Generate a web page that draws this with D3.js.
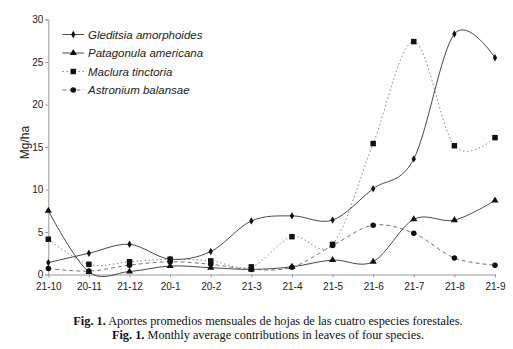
<!DOCTYPE html>
<html><head><meta charset="utf-8">
<script src="https://cdn.jsdelivr.net/npm/d3@7"></script>
<style>body{margin:0;background:#fff}svg{display:block}</style>
</head><body>
<script>
const months = ["21-10","20-11","21-12","20-1","20-2","21-3","21-4","21-5","21-6","21-7","21-8","21-9"];
const gleditsia  = [1.4, 2.5, 3.55, 1.8, 2.7, 6.3, 6.9, 6.4, 10.1, 13.6, 28.3, 25.5];
const patagonula = [7.5, 0.3, 0.35, 1.0, 0.8, 0.6, 0.9, 1.7, 1.5, 6.5, 6.4, 8.7];
const maclura    = [4.15, 1.2, 1.5, 1.8, 1.6, 0.9, 4.45, 3.55, 15.4, 27.4, 15.15, 16.1];
const astronium  = [0.7, 0.4, 1.1, 1.5, 1.2, 0.6, 0.85, 3.4, 5.8, 4.85, 1.95, 1.1];
const yTicks = [0,5,10,15,20,25,30];
const seriesNames = ["Gleditsia amorphoides","Patagonula americana","Maclura tinctoria","Astronium balansae"];

const W=513,H=349;
const svg=d3.select("body").append("svg").attr("width",W).attr("height",H);
const x=d3.scalePoint().domain(months).range([48.3,495]);
const y=d3.scaleLinear().domain([0,30]).range([274.5,19.5]);

const axisCol="#9a9a9a", txt="#222";
// y axis
const ya=svg.append("g").attr("transform","translate(48.3,0)")
  .call(d3.axisLeft(y).tickValues(yTicks).tickSize(3).tickPadding(2));
ya.select(".domain").attr("stroke",axisCol);
ya.selectAll(".tick line").attr("stroke",axisCol);
ya.selectAll("text").attr("fill",txt).style("font-family","Liberation Sans, Arial, sans-serif").style("font-size","10px");
// x axis
const xa=svg.append("g").attr("transform","translate(0,274.5)")
  .call(d3.axisBottom(x).tickSize(3).tickPadding(5).tickSizeOuter(0));
xa.select(".domain").attr("stroke",axisCol);
xa.selectAll(".tick line").attr("stroke",axisCol);
xa.selectAll("text").attr("fill",txt).style("font-family","Liberation Sans, Arial, sans-serif").style("font-size","10px");

svg.append("text").attr("transform","translate(29,142.5) rotate(-90)").attr("text-anchor","middle")
  .attr("fill",txt).style("font-family","Liberation Sans, Arial, sans-serif").style("font-size","12px").text("Mg/ha");

const defs=[
  {data:gleditsia, dash:null, col:"#333", sym:d3.symbolDiamond, size:16},
  {data:patagonula, dash:null, col:"#333", sym:d3.symbolTriangle, size:22},
  {data:maclura, dash:"1.5,2.5", col:"#777", sym:d3.symbolSquare, size:30},
  {data:astronium, dash:"4,3", col:"#666", sym:d3.symbolCircle, size:24}
];
const line=d3.line().x((d,i)=>x(months[i])).y(d=>y(d)).curve(d3.curveCardinal.tension(0));
defs.forEach(s=>{
  svg.append("path").attr("d",line(s.data)).attr("fill","none").attr("stroke",s.col)
    .attr("stroke-width",0.9).attr("stroke-dasharray",s.dash);
});
defs.forEach(s=>{
  svg.append("g").selectAll("path").data(s.data).join("path")
    .attr("transform",(d,i)=>`translate(${x(months[i])},${y(d)})`)
    .attr("d",d3.symbol().type(s.sym).size(s.size)).attr("fill","#111");
});
// legend
const lg=svg.append("g");
defs.forEach((s,i)=>{
  const yy=34.5+i*18.5;
  lg.append("line").attr("x1",62.5).attr("x2",84).attr("y1",yy).attr("y2",yy)
    .attr("stroke",s.col).attr("stroke-width",0.9).attr("stroke-dasharray",s.dash);
  lg.append("path").attr("transform",`translate(73.3,${yy})`).attr("d",d3.symbol().type(s.sym).size(s.size)).attr("fill","#111");
  lg.append("text").attr("x",88).attr("y",yy+4).attr("fill",txt)
    .style("font-family","Liberation Sans, Arial, sans-serif").style("font-size","11.5px").style("font-style","italic")
    .text(seriesNames[i]);
});
// caption
const cap=[["Fig. 1."," Aportes promedios mensuales de hojas de las cuatro especies forestales."],
           ["Fig. 1."," Monthly average contributions in leaves of four species."]];
cap.forEach((c,i)=>{
  const t=svg.append("text").attr("x",268).attr("y",325+i*13.5).attr("text-anchor","middle")
    .attr("fill","#111").style("font-family","Liberation Serif, Times New Roman, serif").style("font-size","12.3px");
  t.append("tspan").style("font-weight","bold").text(c[0]);
  t.append("tspan").text(c[1]);
});
</script>
</body></html>
